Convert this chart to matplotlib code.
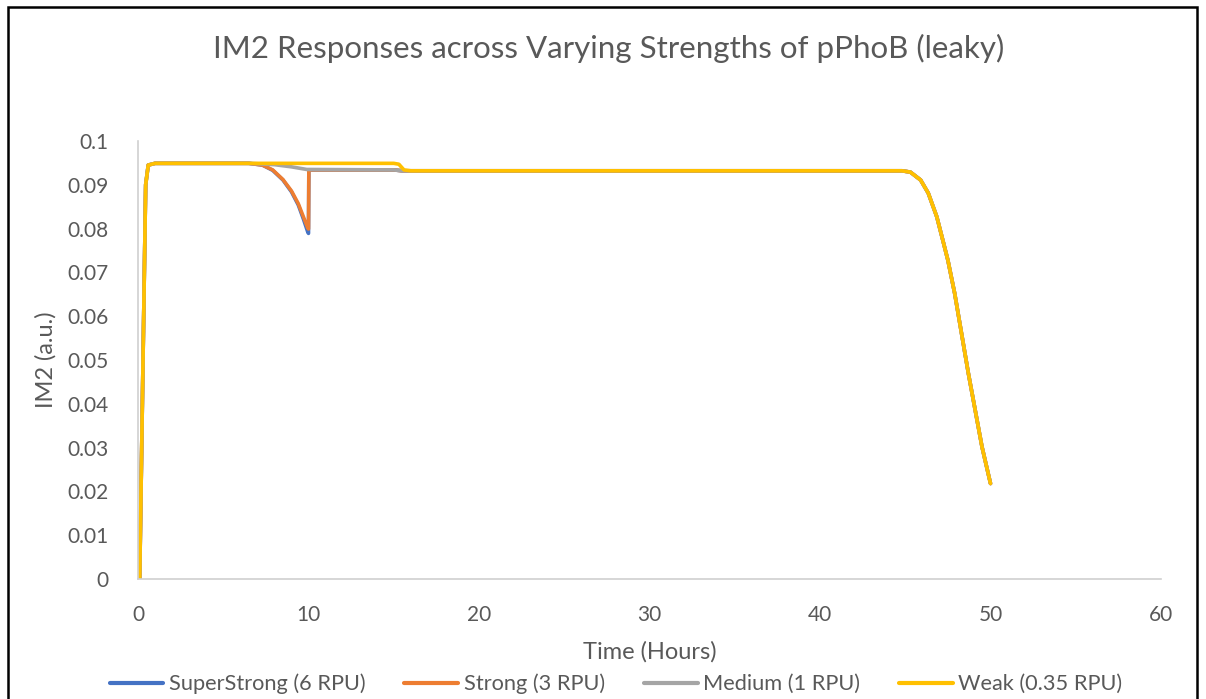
import matplotlib
matplotlib.use("Agg")
import matplotlib.pyplot as plt
from matplotlib.patches import Rectangle

plt.rcParams['font.family'] = ['Lato', 'DejaVu Sans']

title = "IM2 Responses across Varying Strengths of pPhoB (leaky)"
xlabel = "Time (Hours)"
ylabel = "IM2 (a.u.)"

series_names = ["SuperStrong (6 RPU)", "Strong (3 RPU)", "Medium (1 RPU)", "Weak (0.35 RPU)"]
series_colors = ["#4472C4", "#ED7D31", "#A5A5A5", "#FFC000"]

# shared decline segment (hours, a.u.)
t_tail = [16.0, 44.8, 45.3, 45.9, 46.35, 46.85, 47.2, 47.5, 47.9, 48.3, 48.7, 49.1, 49.5, 50.0]
v_tail = [0.0932, 0.0932, 0.0929, 0.0911, 0.0881, 0.0827, 0.0774, 0.0728, 0.0652, 0.0561, 0.0470, 0.0386, 0.0302, 0.0218]

# SuperStrong
t_superstrong = [0.0, 0.1, 0.45, 0.6, 1.0, 6.5, 7.3, 7.9, 8.5, 9.0, 9.4, 9.7, 9.95, 10.0,
                 10.02, 15.0, 15.5] + t_tail
v_superstrong = [0.0, 0.0, 0.090, 0.0945, 0.0949, 0.0949, 0.0945, 0.0933, 0.0911, 0.0884, 0.0854, 0.0822, 0.0793, 0.0789,
                 0.0934, 0.0934, 0.0932] + v_tail
# Strong
t_strong = [0.0, 0.1, 0.45, 0.6, 1.0, 6.5, 7.3, 7.9, 8.5, 9.0, 9.4, 9.7, 9.95, 10.0,
            10.02, 15.0, 15.5] + t_tail
v_strong = [0.0, 0.0, 0.090, 0.0945, 0.0949, 0.0949, 0.0945, 0.0934, 0.0912, 0.0886, 0.0857, 0.0827, 0.0802, 0.0799,
            0.0934, 0.0934, 0.0932] + v_tail
# Medium
t_medium = [0.0, 0.1, 0.45, 0.6, 1.0, 6.5, 8.0, 9.0, 9.9, 10.0, 15.0, 15.5] + t_tail
v_medium = [0.0, 0.0, 0.090, 0.0945, 0.0949, 0.0949, 0.0946, 0.0941, 0.0935, 0.0935, 0.0934, 0.0932] + v_tail
# Weak
t_weak = [0.0, 0.1, 0.45, 0.6, 1.0, 15.0, 15.3, 15.6] + t_tail
v_weak = [0.0, 0.0, 0.090, 0.0945, 0.0949, 0.0949, 0.0947, 0.0934] + v_tail

x_ticks = [0, 10, 20, 30, 40, 50, 60]
y_ticks = [0, 0.01, 0.02, 0.03, 0.04, 0.05, 0.06, 0.07, 0.08, 0.09, 0.1]
y_ticklabels = ["0", "0.01", "0.02", "0.03", "0.04", "0.05", "0.06", "0.07", "0.08", "0.09", "0.1"]

text_color = "#595959"
W, H = 1206, 699
fig = plt.figure(figsize=(W / 100, H / 100), dpi=100)
ax = fig.add_axes([138 / W, 1 - 579 / H, (1161 - 138) / W, (579 - 141) / H])

data = [(t_superstrong, v_superstrong), (t_strong, v_strong), (t_medium, v_medium), (t_weak, v_weak)]
for (t, v), name, c in zip(data, series_names, series_colors):
    ax.plot(t, v, color=c, lw=2.6, label=name, solid_capstyle='round', solid_joinstyle='round')

ax.set_xlim(0, 60)
ax.set_ylim(0, 0.1)
ax.set_xticks(x_ticks)
ax.set_yticks(y_ticks)
ax.set_yticklabels(y_ticklabels)
ax.tick_params(length=0, labelsize=15, colors=text_color)
ax.tick_params(axis='x', pad=19)
ax.tick_params(axis='y', pad=21)
for s in ['top', 'right']:
    ax.spines[s].set_visible(False)
for s in ['left', 'bottom']:
    ax.spines[s].set_color('#D0D0D0')
    ax.spines[s].set_linewidth(1.2)

ax.set_xlabel(xlabel, fontsize=17, color=text_color, labelpad=11)
ax.set_ylabel(ylabel, fontsize=17, color=text_color, labelpad=8)
fig.text(609 / W, 1 - 48 / H, title, ha='center', va='center', fontsize=22.5, color=text_color)

leg = fig.legend(loc='center', bbox_to_anchor=(616 / W, 1 - 684 / H), ncol=4, frameon=False,
                 fontsize=15.7, handlelength=2.46, handletextpad=0.25, columnspacing=1.8)
for txt in leg.get_texts():
    txt.set_color(text_color)
for h in leg.legend_handles:
    h.set_linewidth(3)

fig.patches.append(Rectangle((8 / W, -0.05), (1197 - 8) / W, 1.05 - 7 / H, transform=fig.transFigure,
                             fill=False, edgecolor='black', lw=1.8))

fig.savefig("out.png", dpi=100)
